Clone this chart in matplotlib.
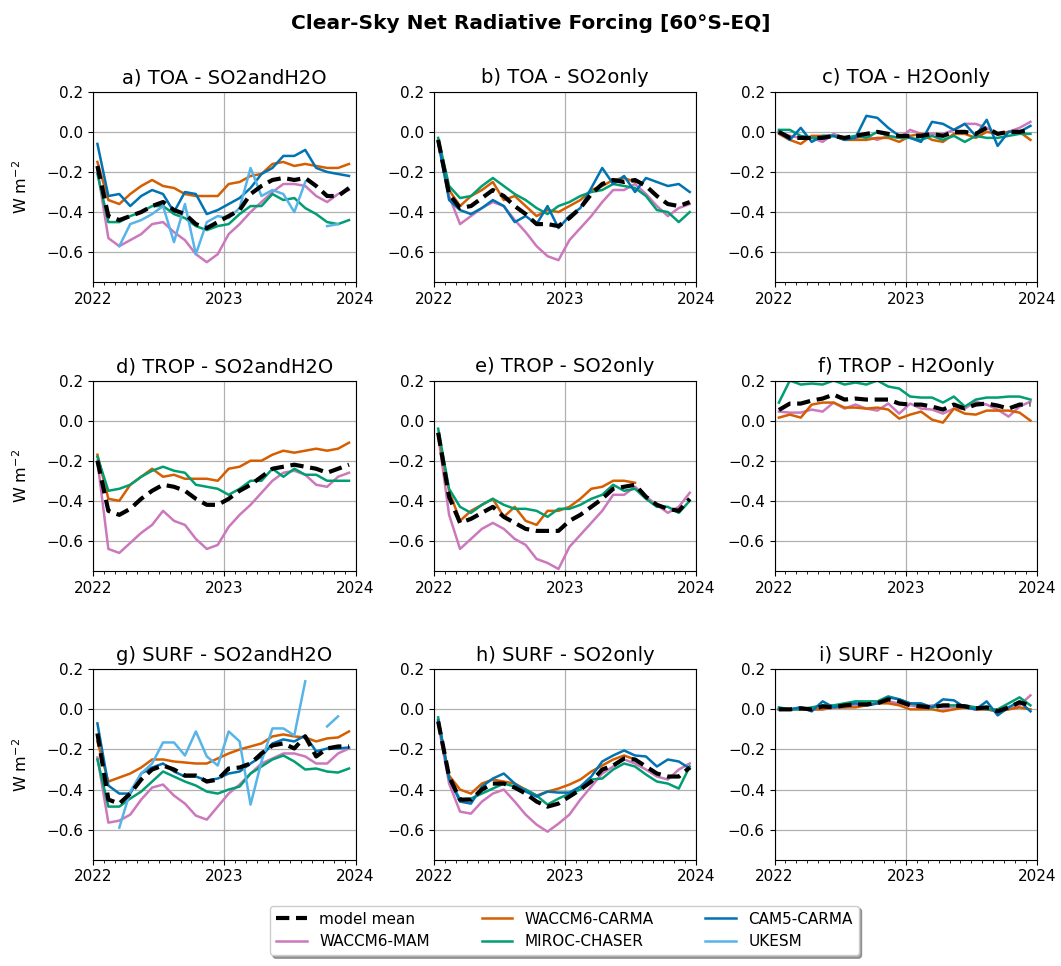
import numpy as np
import matplotlib
matplotlib.use("Agg")
import matplotlib.pyplot as plt
from matplotlib.ticker import MultipleLocator

N = np.nan
months = list(range(24))  # Jan 2022 .. Dec 2023

models = ["model mean", "WACCM6-MAM", "WACCM6-CARMA", "MIROC-CHASER", "CAM5-CARMA", "UKESM"]
colors = ["black", "#cc78bc", "#d55e00", "#029e73", "#0173b2", "#56b4e9"]

titles = ["a) TOA - SO2andH2O", "b) TOA - SO2only", "c) TOA - H2Oonly",
          "d) TROP - SO2andH2O", "e) TROP - SO2only", "f) TROP - H2Oonly",
          "g) SURF - SO2andH2O", "h) SURF - SO2only", "i) SURF - H2Oonly"]

# ---------------- a) TOA SO2andH2O
a_mean = [-0.17,-0.42,-0.44,-0.42,-0.40,-0.37,-0.35,-0.39,-0.41,-0.46,-0.48,-0.45,-0.42,-0.39,-0.31,-0.27,-0.24,-0.23,-0.24,-0.23,-0.27,-0.32,-0.32,-0.28]
a_mam  = [-0.19,-0.53,-0.57,-0.54,-0.51,-0.46,-0.45,-0.50,-0.54,-0.61,-0.65,-0.61,-0.51,-0.46,-0.40,-0.35,-0.30,-0.26,-0.26,-0.27,-0.32,-0.35,-0.31,-0.29]
a_carma= [-0.15,-0.34,-0.36,-0.31,-0.27,-0.24,-0.27,-0.28,-0.31,-0.32,-0.32,-0.32,-0.26,-0.25,-0.22,-0.21,-0.16,-0.15,-0.17,-0.16,-0.17,-0.18,-0.18,-0.16]
a_miroc= [-0.21,-0.45,-0.45,-0.42,-0.40,-0.37,-0.37,-0.41,-0.43,-0.47,-0.49,-0.47,-0.46,-0.41,-0.37,-0.37,-0.31,-0.34,-0.33,-0.38,-0.41,-0.45,-0.46,-0.44]
a_cam5 = [-0.06,-0.32,-0.31,-0.37,-0.32,-0.29,-0.31,-0.40,-0.30,-0.31,-0.41,-0.39,-0.36,-0.33,-0.28,-0.21,-0.18,-0.12,-0.12,-0.09,-0.18,-0.20,-0.21,-0.22]
a_ukesm= [N,N,-0.57,-0.46,-0.44,-0.41,-0.37,-0.55,-0.36,-0.61,-0.45,-0.42,-0.43,-0.38,-0.18,-0.32,-0.29,-0.31,-0.40,-0.25,N,-0.47,-0.46,N]

# ---------------- b) TOA SO2only
b_mean = [-0.04,-0.31,-0.38,-0.37,-0.33,-0.29,-0.32,-0.37,-0.41,-0.46,-0.46,-0.47,-0.43,-0.38,-0.31,-0.26,-0.24,-0.25,-0.24,-0.27,-0.32,-0.36,-0.37,-0.35]
b_mam  = [-0.04,-0.32,-0.46,-0.42,-0.38,-0.35,-0.37,-0.44,-0.50,-0.57,-0.62,-0.64,-0.54,-0.48,-0.42,-0.35,-0.29,-0.29,-0.26,-0.31,-0.37,-0.42,-0.38,-0.36]
b_carma= [-0.05,-0.29,-0.37,-0.32,-0.29,-0.25,-0.34,-0.32,-0.37,-0.42,-0.39,-0.40,-0.37,-0.34,-0.29,-0.27,-0.24,-0.23,-0.25,N,N,N,N,N]
b_miroc= [-0.03,-0.27,-0.33,-0.32,-0.27,-0.23,-0.27,-0.31,-0.34,-0.38,-0.41,-0.37,-0.35,-0.32,-0.30,-0.29,-0.26,-0.27,-0.28,-0.32,-0.39,-0.40,-0.45,-0.40]
b_cam5 = [-0.05,-0.34,-0.39,-0.41,-0.38,-0.34,-0.37,-0.45,-0.42,-0.46,-0.37,-0.48,-0.42,-0.38,-0.28,-0.18,-0.26,-0.22,-0.30,-0.23,-0.25,-0.27,-0.26,-0.30]
b_ukesm= [N]*24

# ---------------- c) TOA H2Oonly
c_mean = [0.00,-0.03,-0.03,-0.03,-0.03,-0.02,-0.03,-0.02,-0.01,0.00,-0.01,-0.02,-0.02,-0.02,-0.01,-0.02,0.00,0.00,-0.01,0.02,-0.01,0.00,0.00,0.01]
c_mam  = [0.00,-0.02,-0.03,-0.03,-0.05,-0.01,-0.03,-0.03,-0.02,-0.04,-0.02,-0.03,0.01,-0.01,-0.01,-0.01,0.01,0.04,0.04,0.02,-0.01,0.00,0.02,0.05]
c_carma= [-0.01,-0.04,-0.06,-0.02,-0.02,-0.02,-0.04,-0.04,-0.04,-0.03,-0.03,-0.05,-0.02,-0.01,-0.04,-0.05,-0.01,-0.01,-0.03,0.00,-0.01,0.00,0.00,-0.04]
c_miroc= [0.01,0.01,-0.02,-0.03,-0.03,-0.02,-0.03,-0.02,-0.03,0.00,-0.02,-0.03,-0.03,-0.04,-0.02,-0.04,-0.02,-0.05,-0.02,-0.03,-0.03,-0.02,-0.01,-0.01]
c_cam5 = [0.00,-0.04,0.02,-0.05,-0.02,-0.02,-0.04,-0.03,0.08,0.07,0.02,-0.02,-0.03,-0.05,0.05,0.04,0.01,0.04,-0.02,0.06,-0.07,0.00,0.00,0.03]
c_ukesm= [N]*24

# ---------------- d) TROP SO2andH2O
d_mean = [-0.20,-0.45,-0.47,-0.44,-0.39,-0.35,-0.32,-0.33,-0.35,-0.39,-0.42,-0.42,-0.39,-0.35,-0.32,-0.28,-0.24,-0.23,-0.22,-0.23,-0.24,-0.26,-0.24,-0.22]
d_mam  = [-0.20,-0.64,-0.66,-0.61,-0.56,-0.52,-0.45,-0.50,-0.52,-0.59,-0.64,-0.62,-0.53,-0.47,-0.42,-0.36,-0.30,-0.26,-0.25,-0.27,-0.32,-0.33,-0.28,-0.26]
d_carma= [-0.17,-0.39,-0.40,-0.32,-0.28,-0.24,-0.28,-0.27,-0.29,-0.29,-0.29,-0.30,-0.24,-0.23,-0.20,-0.20,-0.17,-0.15,-0.16,-0.15,-0.14,-0.15,-0.14,-0.11]
d_miroc= [-0.18,-0.35,-0.34,-0.32,-0.28,-0.25,-0.23,-0.25,-0.26,-0.32,-0.33,-0.34,-0.37,-0.34,-0.30,-0.30,-0.24,-0.28,-0.24,-0.27,-0.27,-0.30,-0.30,-0.30]
d_cam5 = [N]*24
d_ukesm= [N]*24

# ---------------- e) TROP SO2only
e_mean = [-0.06,-0.38,-0.51,-0.49,-0.46,-0.43,-0.48,-0.51,-0.54,-0.55,-0.55,-0.55,-0.50,-0.47,-0.43,-0.39,-0.34,-0.33,-0.32,-0.38,-0.42,-0.44,-0.45,-0.39]
e_mam  = [-0.07,-0.47,-0.64,-0.59,-0.54,-0.51,-0.54,-0.59,-0.62,-0.69,-0.71,-0.74,-0.63,-0.57,-0.51,-0.45,-0.37,-0.37,-0.33,-0.38,-0.42,-0.46,-0.43,-0.36]
e_carma= [-0.07,-0.35,-0.50,-0.45,-0.42,-0.39,-0.48,-0.43,-0.50,-0.52,-0.45,-0.45,-0.43,-0.39,-0.34,-0.33,-0.30,-0.30,-0.31,N,N,N,N,N]
e_miroc= [-0.04,-0.34,-0.43,-0.46,-0.42,-0.39,-0.42,-0.44,-0.44,-0.45,-0.48,-0.44,-0.44,-0.42,-0.39,-0.37,-0.32,-0.35,-0.34,-0.39,-0.43,-0.43,-0.46,-0.40]
e_cam5 = [N]*24
e_ukesm= [N]*24

# ---------------- f) TROP H2Oonly
f_mean = [0.053,0.085,0.085,0.10,0.11,0.13,0.105,0.11,0.105,0.105,0.105,0.085,0.08,0.08,0.07,0.055,0.08,0.06,0.08,0.085,0.075,0.06,0.08,0.08]
f_mam  = [0.045,0.04,0.04,0.055,0.045,0.09,0.06,0.08,0.06,0.05,0.085,0.035,0.085,0.06,0.055,0.035,0.06,0.06,0.095,0.08,0.055,0.02,0.07,0.095]
f_carma= [0.015,0.03,0.015,0.08,0.09,0.09,0.065,0.065,0.06,0.065,0.055,0.01,0.03,0.045,0.005,-0.01,0.06,0.035,0.03,0.05,0.05,0.05,0.04,0.00]
f_miroc= [0.09,0.20,0.18,0.185,0.18,0.20,0.18,0.19,0.18,0.20,0.17,0.16,0.12,0.115,0.115,0.09,0.12,0.07,0.105,0.115,0.115,0.12,0.12,0.105]
f_cam5 = [N]*24
f_ukesm= [N]*24

# ---------------- g) SURF SO2andH2O
g_mean = [-0.12,-0.45,-0.47,-0.42,-0.35,-0.30,-0.28,-0.30,-0.33,-0.33,-0.36,-0.35,-0.295,-0.29,-0.27,-0.22,-0.18,-0.17,-0.195,-0.135,-0.235,-0.195,-0.185,-0.185]
g_mam  = [-0.24,-0.565,-0.555,-0.525,-0.45,-0.39,-0.375,-0.43,-0.47,-0.53,-0.55,-0.485,-0.42,-0.375,-0.32,-0.27,-0.245,-0.22,-0.22,-0.235,-0.27,-0.27,-0.22,-0.195]
g_carma= [-0.16,-0.36,-0.34,-0.32,-0.29,-0.25,-0.25,-0.26,-0.265,-0.27,-0.27,-0.245,-0.22,-0.20,-0.185,-0.17,-0.135,-0.125,-0.135,-0.14,-0.16,-0.145,-0.14,-0.11]
g_miroc= [-0.25,-0.485,-0.485,-0.445,-0.41,-0.36,-0.31,-0.335,-0.36,-0.38,-0.41,-0.42,-0.40,-0.385,-0.32,-0.285,-0.25,-0.23,-0.26,-0.30,-0.295,-0.31,-0.315,-0.295]
g_cam5 = [-0.07,-0.38,-0.42,-0.42,-0.32,-0.29,-0.27,-0.31,-0.335,-0.335,-0.355,-0.345,-0.32,-0.31,-0.27,-0.235,-0.17,-0.15,-0.16,-0.13,-0.21,-0.195,-0.195,-0.19]
g_ukesm= [N,N,-0.59,-0.41,-0.32,-0.27,-0.165,-0.165,-0.23,-0.11,-0.235,-0.28,-0.11,-0.16,-0.475,-0.26,-0.095,-0.095,-0.13,0.14,N,-0.085,-0.035,N]

# ---------------- h) SURF SO2only
h_mean = [-0.06,-0.335,-0.45,-0.45,-0.40,-0.37,-0.37,-0.39,-0.42,-0.46,-0.485,-0.47,-0.435,-0.40,-0.36,-0.30,-0.28,-0.245,-0.25,-0.285,-0.32,-0.335,-0.335,-0.29]
h_mam  = [-0.07,-0.37,-0.51,-0.52,-0.46,-0.42,-0.40,-0.46,-0.525,-0.575,-0.61,-0.57,-0.525,-0.45,-0.385,-0.32,-0.285,-0.25,-0.27,-0.30,-0.335,-0.35,-0.30,-0.27]
h_carma= [-0.055,-0.33,-0.40,-0.42,-0.37,-0.35,-0.36,-0.37,-0.40,-0.43,-0.41,-0.395,-0.375,-0.35,-0.31,-0.28,-0.25,-0.23,-0.25,N,N,N,N,N]
h_miroc= [-0.04,-0.345,-0.45,-0.445,-0.42,-0.395,-0.37,-0.385,-0.40,-0.43,-0.475,-0.445,-0.42,-0.40,-0.35,-0.345,-0.30,-0.27,-0.285,-0.325,-0.36,-0.37,-0.395,-0.285]
h_cam5 = [-0.055,-0.345,-0.46,-0.47,-0.385,-0.345,-0.32,-0.37,-0.41,-0.435,-0.41,-0.415,-0.415,-0.385,-0.335,-0.26,-0.23,-0.205,-0.23,-0.235,-0.285,-0.25,-0.26,-0.295]
h_ukesm= [N]*24

# ---------------- i) SURF H2Oonly
i_mean = [0.00,0.00,0.005,0.00,0.015,0.01,0.02,0.025,0.025,0.03,0.05,0.04,0.02,0.015,0.01,0.02,0.02,0.015,0.005,0.01,-0.01,0.01,0.035,0.02]
i_mam  = [0.00,0.00,0.01,0.00,0.00,0.01,0.01,0.02,0.02,0.03,0.04,0.03,0.02,0.01,0.02,0.01,0.01,0.01,0.00,0.00,-0.01,0.00,0.02,0.07]
i_carma= [0.00,0.00,0.00,0.00,0.00,0.01,0.01,0.01,0.02,0.03,0.03,0.02,0.00,0.00,0.00,-0.01,0.00,0.01,0.00,0.00,-0.01,0.00,0.01,0.00]
i_miroc= [0.01,0.00,0.00,0.01,0.02,0.02,0.03,0.04,0.04,0.04,0.065,0.05,0.03,0.02,0.01,0.02,0.02,0.02,0.01,0.00,0.00,0.03,0.06,0.02]
i_cam5 = [0.00,0.00,0.01,-0.01,0.04,0.01,0.02,0.03,0.02,0.03,0.06,0.05,0.03,0.03,0.01,0.05,0.045,0.01,0.00,0.04,-0.03,0.01,0.04,-0.01]
i_ukesm= [N]*24

panels = [
    [a_mean, a_mam, a_carma, a_miroc, a_cam5, a_ukesm],
    [b_mean, b_mam, b_carma, b_miroc, b_cam5, b_ukesm],
    [c_mean, c_mam, c_carma, c_miroc, c_cam5, c_ukesm],
    [d_mean, d_mam, d_carma, d_miroc, d_cam5, d_ukesm],
    [e_mean, e_mam, e_carma, e_miroc, e_cam5, e_ukesm],
    [f_mean, f_mam, f_carma, f_miroc, f_cam5, f_ukesm],
    [g_mean, g_mam, g_carma, g_miroc, g_cam5, g_ukesm],
    [h_mean, h_mam, h_carma, h_miroc, h_cam5, h_ukesm],
    [i_mean, i_mam, i_carma, i_miroc, i_cam5, i_ukesm],
]

x = 2022 + (np.array(months) + 0.4) / 12.0

fig = plt.figure(figsize=(10.61, 9.66), dpi=100)
gs = fig.add_gridspec(3, 3, left=0.0877, right=0.9774, bottom=0.110, top=0.905,
                      wspace=0.298, hspace=0.516)

handles = None
for k in range(9):
    r, c = divmod(k, 3)
    ax = fig.add_subplot(gs[r, c])
    hs = []
    for j, series in enumerate(panels[k]):
        y = np.array(series, dtype=float)
        if j == 0:
            h, = ax.plot(x, y, color=colors[j], lw=3.0, ls=(0, (3.2, 1.6)), label=models[j], zorder=3)
        else:
            h, = ax.plot(x, y, color=colors[j], lw=1.8, label=models[j], zorder=2)
        hs.append(h)
    if handles is None:
        handles = hs
    ax.set_xlim(2022, 2024)
    ax.set_ylim(-0.75, 0.2)
    ax.set_xticks([2022, 2023, 2024])
    ax.set_xticklabels(["2022", "2023", "2024"])
    ax.xaxis.set_minor_locator(MultipleLocator(1 / 12))
    ax.set_yticks([0.2, 0.0, -0.2, -0.4, -0.6])
    ax.grid(True, which="major", color="#b0b0b0", lw=0.9)
    ax.set_axisbelow(True)
    ax.tick_params(labelsize=11)
    ax.set_title(titles[k], fontsize=14)
    if c == 0:
        ax.set_ylabel("W m$^{-2}$", fontsize=11.5)
        ax.yaxis.set_label_coords(-0.24, 0.5)

fig.suptitle("Clear-Sky Net Radiative Forcing [60°S-EQ]", fontsize=14.5, fontweight="bold", y=0.985)

fig.legend(handles, models, loc="lower center",
           bbox_to_anchor=(0.532, 0.003), ncol=3, fontsize=11, shadow=True,
           columnspacing=3.4, handlelength=2.0)

fig.savefig("out.png", dpi=100)
